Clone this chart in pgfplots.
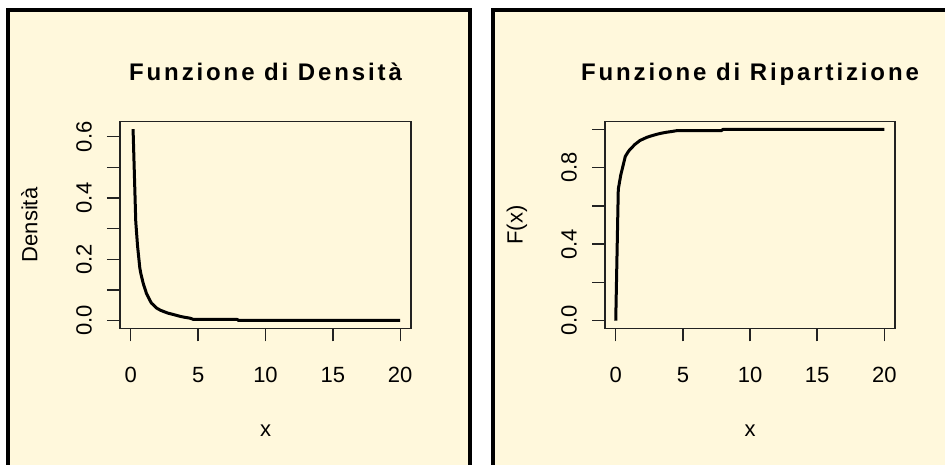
\documentclass[border=0pt]{standalone}
\usepackage{fontspec}
\setmainfont{Liberation Sans}
\usepackage{pgfplots}
\pgfplotsset{compat=1.18}
\usepackage{pgfplotstable}

\definecolor{cornsilk}{HTML}{FFF8DC}
\definecolor{boxgray}{HTML}{222222}

% density values of the fitted distribution
\pgfplotstableread{
x      y
0.17   0.625
0.37   0.323
0.50   0.245
0.67   0.172
0.75   0.153
0.92   0.122
1.17   0.088
1.42   0.066
1.54   0.057
1.92   0.041
2.20   0.034
2.54   0.028
2.80   0.024
3.16   0.020
3.66   0.014
4.00   0.011
4.40   0.008
4.65   0.004
7.90   0.004
8.00   0.0005
20.0   0.0005
}\densita

% cumulative distribution function
\pgfplotstableread{
x      y
0.00   0.000
0.19   0.687
0.37   0.760
0.71   0.858
0.90   0.880
1.06   0.895
1.44   0.922
1.81   0.942
2.31   0.958
2.70   0.967
3.05   0.974
3.40   0.980
3.80   0.985
4.20   0.989
4.54   0.993
7.85   0.993
8.00   1.000
20.0   1.000
}\ripartizione

\newcommand\ticksize{\fontsize{22}{26}\selectfont}
\newcommand\titlefont{\fontsize{24}{28}\selectfont\bfseries\addfontfeatures{LetterSpace=12}}

\pgfplotsset{
  rpanel/.style={
    scale only axis,
    width=291pt, height=206.6pt,
    anchor=south west,
    xmin=-0.8, xmax=20.8,
    axis line style={boxgray, line width=1.3pt},
    tick style={boxgray, line width=1.3pt},
    tick align=outside,
    major tick length=13pt,
    xtick pos=bottom, ytick pos=left,
    xtick={0,5,10,15,20},
    xticklabels={0,5,10,15,20},
    tick label style={font=\ticksize},
    xticklabel style={anchor=base, yshift=-41.4pt},
    yticklabel style={xshift=-15.3pt, rotate=90, anchor=base},
    every axis title/.style={at={(axis description cs:0.5,1.2018)}, anchor=base, font=\titlefont},
    every axis x label/.style={at={(axis description cs:0.5,-0.5213)}, anchor=base, font=\ticksize},
    every axis y label/.style={at={(axis description cs:-0.2842,0.5)}, rotate=90, anchor=base, font=\ticksize},
    axis background/.style={fill=cornsilk},
  }
}

\begin{document}
\begin{tikzpicture}[x=1pt, y=1pt]
\useasboundingbox (0,0) rectangle (945,464);
\fill[white] (0,0) rectangle (945,464);
\begin{scope}
\clip (0,0) rectangle (945,464);
\draw[line width=4pt, fill=cornsilk] (8,454) rectangle (470.3,-30);
\draw[line width=4pt, fill=cornsilk] (492.8,454) rectangle (990,-30);

\begin{axis}[rpanel, at={(120pt,135.7pt)},
  ymin=-0.025, ymax=0.649,
  ytick={0,0.1,0.2,0.3,0.4,0.5,0.6},
  yticklabels={0.0,,0.2,,0.4,,0.6},
  title={Funzione di Densità},
  xlabel={x}, ylabel={Densità}]
  \addplot[black, line width=3pt, line join=round] table[x=x, y=y] {\densita};
\end{axis}

\begin{axis}[rpanel, at={(605pt,135.7pt)}, width=290pt,
  ymin=-0.04, ymax=1.04,
  ytick={0,0.2,0.4,0.6,0.8,1.0},
  yticklabels={0.0,,0.4,,0.8,},
  title={Funzione di Ripartizione},
  xlabel={x}, ylabel={F(x)}]
  \addplot[black, line width=3pt, line join=round] table[x=x, y=y] {\ripartizione};
\end{axis}
\end{scope}
\end{tikzpicture}
\end{document}
